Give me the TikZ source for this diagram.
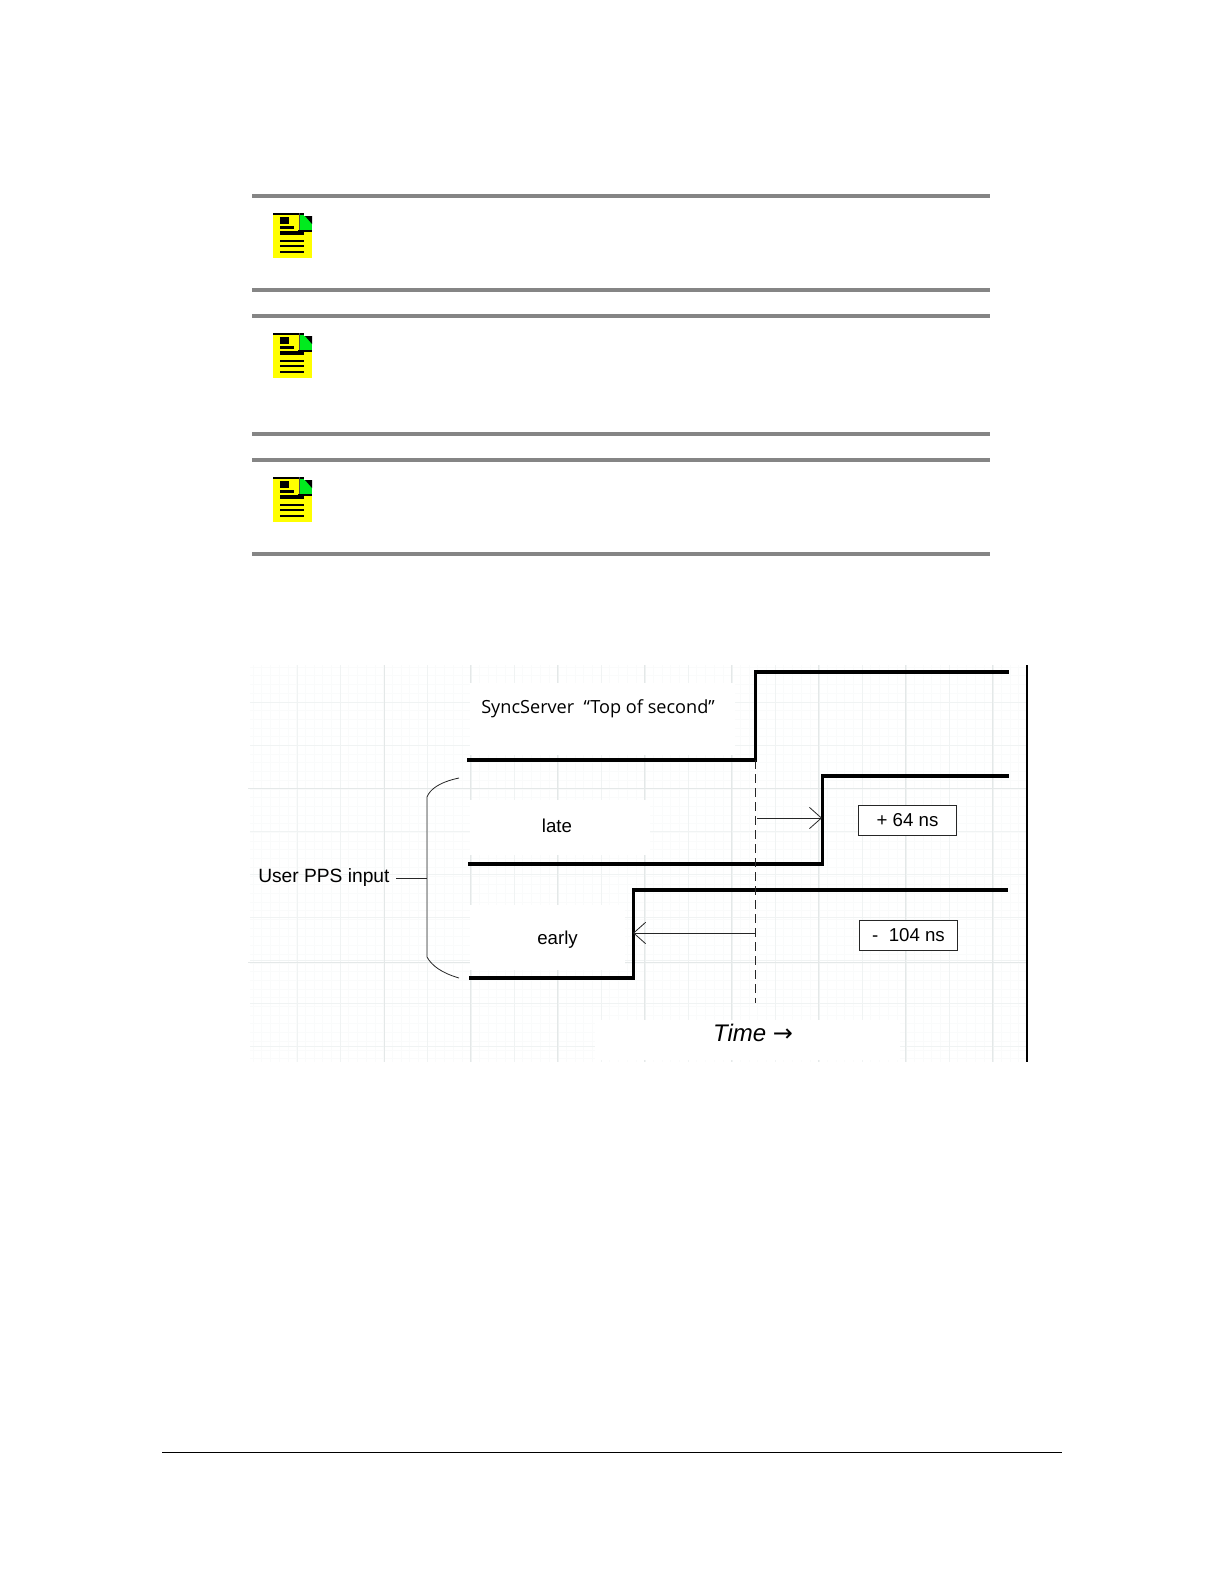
\documentclass[tikz,border=0pt]{standalone}
\usepackage{fontspec}
\setmainfont{Liberation Sans}
\newfontfamily\syncfont{Open Sans}
\newfontfamily\arrowfont{DejaVu Sans}
\usepackage{tikz}
\usetikzlibrary{arrows.meta, calc}
\definecolor{rulegray}{RGB}{133,133,133}
\definecolor{iconyellow}{RGB}{255,255,0}
\definecolor{icongreen}{RGB}{0,235,30}
\definecolor{gridminor}{RGB}{250,251,251}
\definecolor{gridmajor}{RGB}{240,243,243}
\definecolor{gridstrong}{RGB}{228,232,232}
\tikzset{
  notebar/.style={draw=rulegray, line width=3pt},
  signal/.style={draw=black, line width=2.6pt, line join=miter},
  thinline/.style={draw=black!85, line width=0.6pt},
  delayarrow/.style={thinline, -{Straight Barb[length=9pt, width=16pt, line width=0.6pt]}},
  delaybox/.style={draw=black!85, line width=0.6pt, fill=white, minimum width=74pt, minimum height=23pt, inner sep=0pt, font=\fontsize{14}{16}\selectfont},
  sigtext/.style={inner sep=2pt, font=\fontsize{14}{16}\selectfont},
  noteicon/.pic={
    \fill[iconyellow] (0,0) rectangle (39,45);
    \fill[icongreen] (26,2) rectangle (39,17);
    \fill[white] (31,0) rectangle (39,3);
    \fill[black] (0,0) rectangle (31,2);
    \fill[black!70] (25.5,0) rectangle (26.5,18);
    \fill[black] (32,3) -- (39,3) -- (39,11) -- cycle;
    \fill[black] (7,4) rectangle (16,11);
    \fill[black] (7,13) rectangle (21,16);
    \fill[black] (7,18) rectangle (31,22);
    \fill[black] (25,17) rectangle (39,18.5);
    \foreach \ly in {27,32,38} \fill[black] (7,\ly) rectangle (31,\ly+1.6);
  }
}
\begin{document}
\begin{tikzpicture}[x=0.75pt, y=-0.75pt]
  \useasboundingbox (0,0) rectangle (1224,1584);
  \fill[white] (0,0) rectangle (1224,1584);

  % Note bars
  \foreach \bartop/\barbot in {196/290, 316/434, 460/554} {
    \draw[notebar] (252,\bartop) -- (990,\bartop);
    \draw[notebar] (252,\barbot) -- (990,\barbot);
  }

  % Note icons
  \path (273,213) pic {noteicon};
  \path (273,333) pic {noteicon};
  \path (273,477) pic {noteicon};

  % Grid
  \foreach \gx in {253,261.7,...,1027} \draw[gridminor, line width=0.4pt] (\gx,665) -- (\gx,1062);
  \foreach \gy in {667,675.7,...,1062} \draw[gridminor, line width=0.4pt] (250,\gy) -- (1027,\gy);
  \foreach \gx in {297,340.5,...,1027} \draw[gridmajor, line width=0.4pt] (\gx,665) -- (\gx,1062);
  \foreach \gy in {702,745,...,1062} \draw[gridmajor, line width=0.4pt] (250,\gy) -- (1027,\gy);
  \foreach \gx in {384,470,557,644,731,818,905,992} \draw[gridstrong, line width=0.4pt] (\gx,665) -- (\gx,1062);
  \foreach \gy in {788,962} \draw[gridstrong, line width=0.4pt] (248,\gy) -- (1027,\gy);

  % Cleared patches behind the labels
  \fill[white] (470,683) rectangle (735,755);
  \fill[white] (470,800) rectangle (650,855);
  \fill[white] (470,905) rectangle (625,970);
  \fill[white] (595,1020) rectangle (900,1060);

  % Signals
  \coordinate (topA) at (467,760);
  \coordinate (topB) at (755.5,760);
  \coordinate (topC) at (755.5,672);
  \coordinate (topD) at (1009,672);
  \coordinate (lateA) at (468,864);
  \coordinate (lateB) at (822.5,864);
  \coordinate (lateC) at (822.5,776);
  \coordinate (lateD) at (1009,776);
  \coordinate (earlyA) at (469,978);
  \coordinate (earlyB) at (633.5,978);
  \coordinate (earlyC) at (633.5,890);
  \coordinate (earlyD) at (1008,890);
  \draw[signal] (topA) -- (topB) -- (topC) -- (topD);
  \draw[signal] (lateA) -- (lateB) -- (lateC) -- (lateD);
  \draw[signal] (earlyA) -- (earlyB) -- (earlyC) -- (earlyD);

  % Reference line
  \coordinate (refEnd) at (755.5,1003);
  \draw[thinline, dashed, dash pattern=on 7pt off 3.5pt] (topB) -- (refEnd);
  \coordinate (frameTop) at (1027,665);
  \coordinate (frameBot) at (1027,1062);
  \draw[draw=black, line width=1pt] (frameTop) -- (frameBot);

  % Delay arrows
  \coordinate (lateFrom) at (757,818);
  \coordinate (lateTo) at (822,818);
  \coordinate (earlyFrom) at (755,933);
  \coordinate (earlyTo) at (633,933);
  \draw[delayarrow] (lateFrom) -- (lateTo);
  \draw[delayarrow] (earlyFrom) -- (earlyTo);

  % Labels
  \node[font=\syncfont\fontsize{13.6}{16}\selectfont, anchor=west, inner sep=0pt] (synclabel) at (481,709) {SyncServer ~“Top of second”};
  \node[sigtext] (latelabel) at (557,826) {late};
  \node[sigtext] (earlylabel) at (557.5,940) {early};
  \node[delaybox] (latebox) at (907.5,820.5) {+ 64 ns};
  \node[delaybox] (earlybox) at (908.5,935.5) {-~~104 ns};
  \node[font=\fontsize{18}{20}\selectfont, inner sep=0pt] (timelabel) at (753,1033) {\textit{Time} {\arrowfont →}};

  % Bracket
  \node[font=\fontsize{14.4}{16}\selectfont, anchor=west, inner sep=0pt] (userlabel) at (258,878) {User PPS input};
  \coordinate (brkTop) at (459,778);
  \coordinate (brkMid) at (427,878);
  \coordinate (brkBot) at (459,978);
  \coordinate (userTick) at (396,878);
  \draw[thinline] (brkTop) .. controls (440,782) and (430,789) .. (427,797) -- (brkMid) -- (427,957) .. controls (432,966) and (442,973) .. (brkBot);
  \draw[thinline] (userTick) -- (brkMid);

  % Footer
  \draw[black, line width=0.7pt] (162,1452.5) -- (1062,1452.5);
\end{tikzpicture}
\end{document}
